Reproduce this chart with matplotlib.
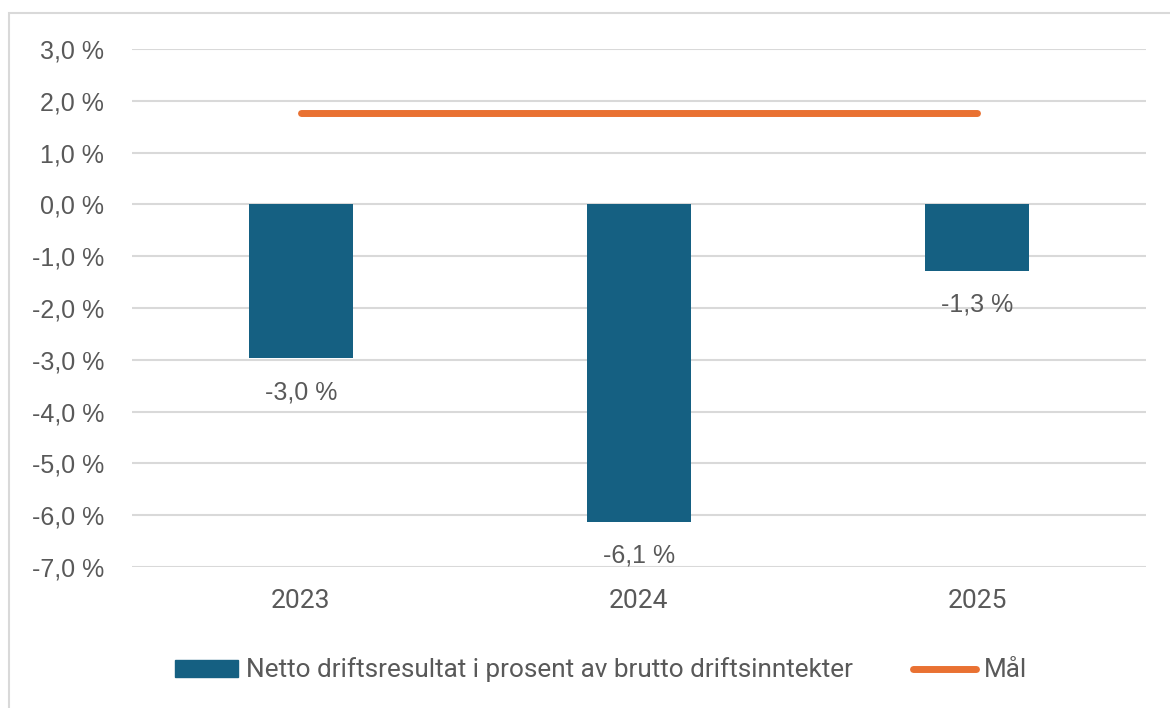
import matplotlib.pyplot as plt
import matplotlib.patches as mpatches
from matplotlib.lines import Line2D
import numpy as np

years = ['2023', '2024', '2025']
netto = [-2.97, -6.13, -1.28]
maal = [1.77, 1.77, 1.77]
labels = ['-3,0 %', '-6,1 %', '-1,3 %']
yticks = [3, 2, 1, 0, -1, -2, -3, -4, -5, -6, -7]

blue = '#156082'
orange = '#E97132'
grey = '#595959'


def pct(v):
    return '{:.1f} %'.format(v).replace('.', ',')


fig = plt.figure(figsize=(11.7, 7.08), dpi=100)
ax = fig.add_axes([132/1170, 1 - 567/708, (1146-132)/1170, (567-49)/708])

x = np.arange(len(years))
ax.bar(x, netto, width=0.31, color=blue, zorder=3)
ax.plot(x, maal, color=orange, lw=5, solid_capstyle='round', zorder=4)

for xi, v, lab in zip(x, netto, labels):
    ax.annotate(lab, (xi, v), xytext=(0, -34), textcoords='offset pixels',
                ha='center', va='center', fontsize=18, color=grey,
                family='Liberation Sans', zorder=5)

ax.set_xlim(-0.5, 2.5)
ax.set_ylim(-7, 3)
ax.set_yticks(yticks)
ax.set_yticklabels([pct(t) for t in yticks], family='Liberation Sans',
                   fontsize=18, color=grey)
ax.set_xticks(x)
ax.set_xticklabels(years, family='Roboto', fontsize=19, color=grey)
ax.tick_params(axis='y', length=0, pad=20)
ax.tick_params(axis='x', length=0, pad=16)
ax.grid(axis='y', color='#d9d9d9', lw=1.5, zorder=0)
for s in ax.spines.values():
    s.set_visible(False)

handles = [mpatches.Patch(color=blue, label='Netto driftsresultat i prosent av brutto driftsinntekter'),
           Line2D([], [], color=orange, lw=5, solid_capstyle='round', label='Mål')]
fig.legend(handles=handles, loc='center', bbox_to_anchor=(601/1170, 1 - 670/708),
           ncol=2, frameon=False, labelcolor=grey,
           prop={'family': 'Roboto', 'size': 18.8}, handlelength=2.4,
           handleheight=0.65, handletextpad=0.3, columnspacing=2.3)

border = mpatches.Rectangle((9/1170, -0.05), 1.1, 1 - 13/708 + 0.05,
                            transform=fig.transFigure, fill=False,
                            edgecolor='#d9d9d9', lw=1.5)
fig.patches.append(border)

fig.savefig('out.png', dpi=100)
